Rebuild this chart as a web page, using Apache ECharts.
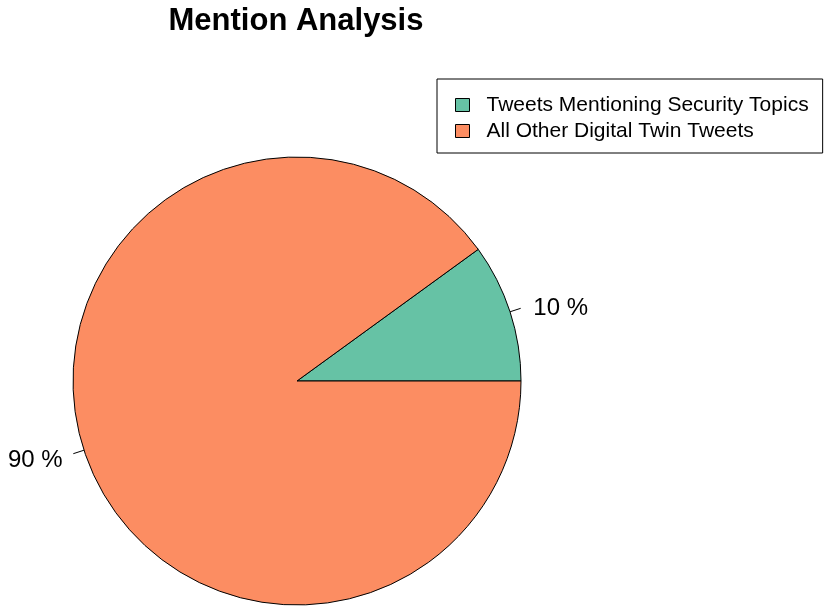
<!DOCTYPE html>
<html>
<head>
<meta charset="utf-8">
<script src="https://cdn.jsdelivr.net/npm/echarts@6/dist/echarts.min.js"></script>
<style>
html,body{margin:0;padding:0;background:#fff;}
#chart{width:826px;height:610px;}
</style>
</head>
<body>
<div id="chart"></div>
<script>
const categories = ["Tweets Mentioning Security Topics", "All Other Digital Twin Tweets"];
const values = [10, 90];
const colors = ["#66C2A5", "#FC8D62"];
const titleText = "Mention Analysis";

const CX = 297, CY = 381, R = 224;
const chart = echarts.init(document.getElementById('chart'), null, {renderer: 'canvas'});
const font = '"Liberation Sans", Arial, sans-serif';
chart.setOption({
  animation: false,
  backgroundColor: '#ffffff',
  title: {
    text: titleText,
    left: 296,
    textAlign: 'center',
    top: 6,
    padding: 0,
    textStyle: {fontFamily: font, fontWeight: 'bold', fontSize: 31, color: '#000'}
  },
  legend: {
    orient: 'vertical',
    left: 437,
    top: 79,
    padding: [13, 14, 9, 18],
    borderColor: '#000',
    borderWidth: 1,
    itemGap: 0,
    itemWidth: 14,
    itemHeight: 13,
    icon: 'rect',
    itemStyle: {borderColor: '#000', borderWidth: 1},
    textStyle: {fontFamily: font, fontSize: 21, color: '#000', lineHeight: 26, padding: [0, 0, 0, 12]},
    data: categories
  },
  series: [{
    type: 'pie',
    center: [CX, CY],
    radius: R,
    startAngle: 0,
    clockwise: false,
    avoidLabelOverlap: false,
    itemStyle: {borderColor: '#000', borderWidth: 1},
    emphasis: {disabled: true},
    label: {
      show: true,
      position: 'outside',
      formatter: '{d} %',
      fontFamily: font,
      fontSize: 24,
      color: '#000'
    },
    labelLine: {show: true, length: 11, length2: 0, lineStyle: {color: '#000', width: 1}},
    labelLayout: function (params) {
      const p = params.labelLinePoints;
      if (!p) return {};
      const dx = p[0][0] - CX, dy = p[0][1] - CY;
      const len = Math.sqrt(dx * dx + dy * dy);
      const ux = dx / len, uy = dy / len;
      return {
        x: CX + ux * R * 1.1 + (ux >= 0 ? 2 : 0),
        y: CY + uy * R * 1.1 + 3.5,
        align: ux >= 0 ? 'left' : 'right',
        verticalAlign: 'middle',
        labelLinePoints: [
          [CX + ux * R, CY + uy * R],
          [CX + ux * R * 1.05, CY + uy * R * 1.05],
          [CX + ux * R * 1.05, CY + uy * R * 1.05]
        ]
      };
    },
    data: categories.map((c, i) => ({name: c, value: values[i], itemStyle: {color: colors[i]}}))
  }]
});
</script>
</body>
</html>
